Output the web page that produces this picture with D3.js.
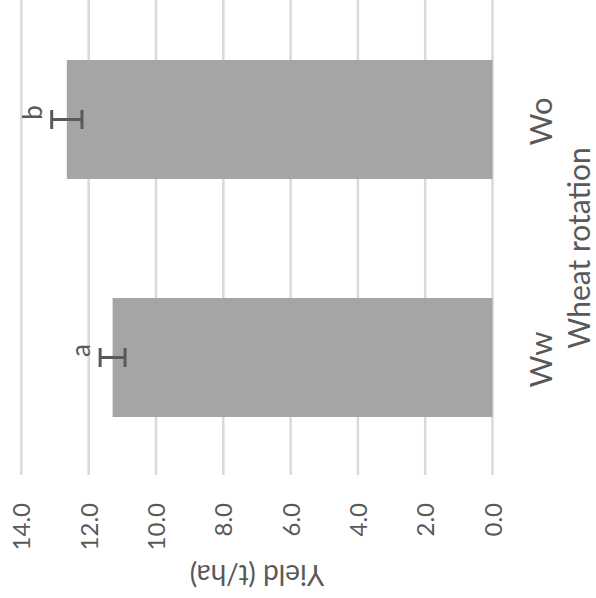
<!DOCTYPE html>
<html>
<head>
<meta charset="utf-8">
<script src="https://cdn.jsdelivr.net/npm/d3@7"></script>
<style>
  html, body { margin: 0; padding: 0; background: #ffffff; }
  svg { display: block; }
  text { font-family: Lato, "Open Sans", sans-serif; font-weight: 400; fill: #595959; }
</style>
</head>
<body>
<svg id="chart" width="596" height="598"></svg>
<script>
// Wheat yield by rotation (t/ha), drawn as a column chart turned on its side
const categories = ["Wo", "Ww"];
const yieldMeans = [12.65, 11.29];
const yieldErrors = [0.45, 0.37];
const letters = ["b", "a"];
const tickValues = [0, 2, 4, 6, 8, 10, 12, 14];
const valueTitle = "Yield (t/ha)";
const categoryTitle = "Wheat rotation";

const svg = d3.select("#chart");

// value axis runs right-to-left, categories stacked top-to-bottom
const x = d3.scaleLinear().domain([0, 14]).range([492.5, 21.4]);
const y = d3.scaleBand().domain(categories).range([0.5, 476.5])
  .paddingInner(0.5).paddingOuter(0.25);

// gridlines
svg.append("g").selectAll("line").data(tickValues).join("line")
  .attr("x1", d => x(d)).attr("x2", d => x(d))
  .attr("y1", 0).attr("y2", 475)
  .attr("stroke", "#d9d9d9").attr("stroke-width", 2.5);

const rows = categories.map((c, i) => ({ c, v: yieldMeans[i], e: yieldErrors[i], l: letters[i] }));

// bars
svg.append("g").selectAll("rect").data(rows).join("rect")
  .attr("x", d => x(d.v)).attr("width", d => x(0) - x(d.v))
  .attr("y", d => y(d.c)).attr("height", y.bandwidth())
  .attr("fill", "#a5a5a5");

// error bars
const eb = svg.append("g").attr("stroke", "#595959").attr("stroke-width", 3).attr("fill", "none");
rows.forEach(d => {
  const cy = y(d.c) + y.bandwidth() / 2;
  const x0 = x(d.v - d.e), x1 = x(d.v + d.e);
  eb.append("line").attr("x1", x0).attr("x2", x1).attr("y1", cy).attr("y2", cy);
  [x0, x1].forEach(xx => eb.append("line").attr("x1", xx).attr("x2", xx).attr("y1", cy - 9.5).attr("y2", cy + 9.5));
});

// significance letters
svg.append("g").selectAll("text").data(rows).join("text")
  .attr("transform", d => `translate(${x(d.v + d.e) - 10},${y(d.c) + y.bandwidth() / 2 - 7}) rotate(-90)`)
  .attr("text-anchor", "middle")
  .style("font-size", "26px")
  .text(d => d.l);

// value tick labels
svg.append("g").selectAll("text").data(tickValues).join("text")
  .attr("transform", d => `translate(${x(d) + 9},503) rotate(-90)`)
  .attr("text-anchor", "end")
  .style("font-size", "24px")
  .text(d => d.toFixed(1));

// category labels
svg.append("g").selectAll("text").data(categories).join("text")
  .attr("transform", d => `translate(552,${y(d) + y.bandwidth() / 2 + 2}) rotate(-90)`)
  .attr("text-anchor", "middle")
  .style("font-size", "31px")
  .text(d => d);

// axis titles
svg.append("text")
  .attr("transform", `translate(${(x(0) + x(14)) / 2},565) rotate(180)`)
  .attr("text-anchor", "middle")
  .style("font-size", "28px")
  .text(valueTitle);

svg.append("text")
  .attr("transform", `translate(590,248) rotate(-90)`)
  .attr("text-anchor", "middle")
  .style("font-size", "30px")
  .text(categoryTitle);
</script>
</body>
</html>
